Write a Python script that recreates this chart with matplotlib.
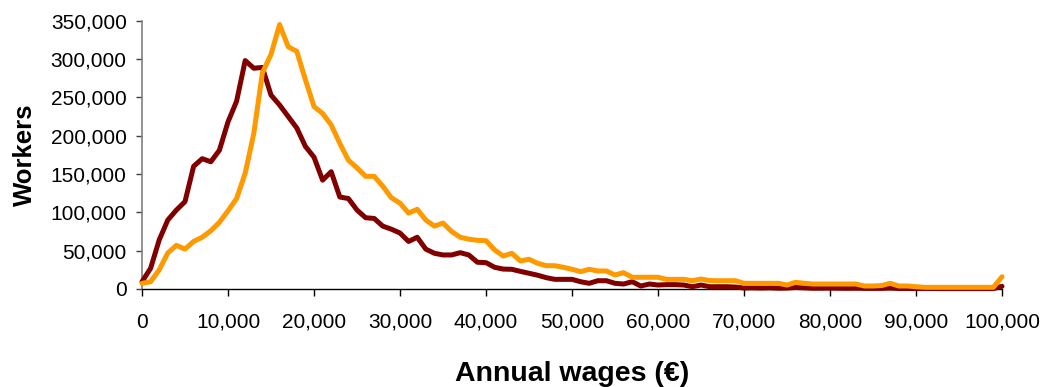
import matplotlib
matplotlib.use("Agg")
import matplotlib.pyplot as plt
from matplotlib.ticker import FuncFormatter, MultipleLocator

wages_k = list(range(0, 101))  # annual wage bins in thousand euros

series_dark = [
    9.5, 27, 64, 90, 103, 114, 160, 170, 166, 181,
    218, 245, 298, 288, 289, 253, 240, 225, 210, 186,
    172, 142, 153, 120, 118, 103, 93, 92, 82, 78,
    73, 62, 67.5, 52, 46.6, 44.4, 44.4, 47.4, 44.4, 34.9,
    34.4, 28.3, 26, 25.7, 23, 20.5, 18, 14.8, 12.6, 12.6,
    12.6, 9.5, 7.4, 10.8, 10.8, 7.4, 6.5, 9.5, 3.9, 6.5,
    5.2, 5.7, 5.7, 5.2, 3.0, 5.2, 3.0, 3.0, 3.0, 2.6,
    1.3, 1.5, 1.2, 1.5, 1.0, 1.2, 2.0, 1.5, 1.0, 1.0,
    1.2, 1.0, 0.9, 1.0, 0.8, 0.8, 0.8, 1.2, 0.7, 0.7,
    0.6, 0.6, 0.6, 0.5, 0.5, 0.5, 0.5, 0.5, 0.5, 0.5,
    3.5,
]

series_orange = [
    7.4, 9.5, 25, 47, 57, 52, 62, 67.5, 76, 87,
    102, 118, 151, 203, 282, 306, 345, 316, 310, 273,
    238, 229, 214, 190, 168, 158, 147, 147, 134, 119,
    112, 99, 104, 90, 82, 86, 75, 67.5, 65, 63.5,
    63, 51, 43, 46.6, 36.6, 38.8, 33.5, 30.4, 30.4, 28.3,
    25.7, 22.6, 25.7, 23.5, 23.5, 18.3, 21.3, 15.3, 15.3, 15.3,
    15.3, 12.6, 12.6, 12.6, 10.8, 13.0, 11.0, 10.8, 10.8, 10.8,
    7.4, 7.4, 7.4, 7.4, 7.4, 5.2, 8.7, 7.5, 6.5, 6.5,
    6.5, 6.5, 6.5, 6.5, 3.9, 3.9, 4.5, 7.4, 3.9, 3.9,
    3.0, 2.2, 2.2, 2.2, 2.2, 2.2, 2.2, 2.2, 2.2, 2.2,
    16,
]

x_label = "Annual wages (€)"
y_label = "Workers"

plt.rcParams['font.family'] = ['Liberation Sans', 'DejaVu Sans']

fig = plt.figure(figsize=(10.49, 3.87), dpi=100)
ax = fig.add_axes([142/1049, 1 - 289/387, 860/1049, (289 - 20.7)/387])

x = [v * 1000 for v in wages_k]
ax.plot(x, [v * 1000 for v in series_dark], color="#800000", lw=3.6,
        solid_joinstyle="round", solid_capstyle="round", clip_on=False, zorder=3)
ax.plot(x, [v * 1000 for v in series_orange], color="#FF9900", lw=3.6,
        solid_joinstyle="round", solid_capstyle="round", clip_on=False, zorder=4)

ax.set_xlim(0, 100000)
ax.set_ylim(0, 350000)
ax.xaxis.set_major_locator(MultipleLocator(10000))
ax.yaxis.set_major_locator(MultipleLocator(50000))
fmt = FuncFormatter(lambda v, p: f"{int(round(v)):,}")
ax.xaxis.set_major_formatter(fmt)
ax.yaxis.set_major_formatter(fmt)

for s in ["top", "right"]:
    ax.spines[s].set_visible(False)
ax.spines["left"].set_color("#808080")
ax.spines["left"].set_linewidth(1.2)
ax.spines["bottom"].set_color("black")
ax.spines["bottom"].set_linewidth(1.0)

ax.tick_params(axis="y", direction="out", length=4, width=1, color="#404040",
               labelsize=15, pad=7)
ax.tick_params(axis="x", direction="out", length=5, width=1, color="black",
               labelsize=15, pad=12)

ax.set_ylabel(y_label, fontsize=18.5, fontweight="bold", labelpad=10)
ax.set_xlabel(x_label, fontsize=20.5, fontweight="bold", labelpad=21)

fig.savefig("out.png", dpi=100)
